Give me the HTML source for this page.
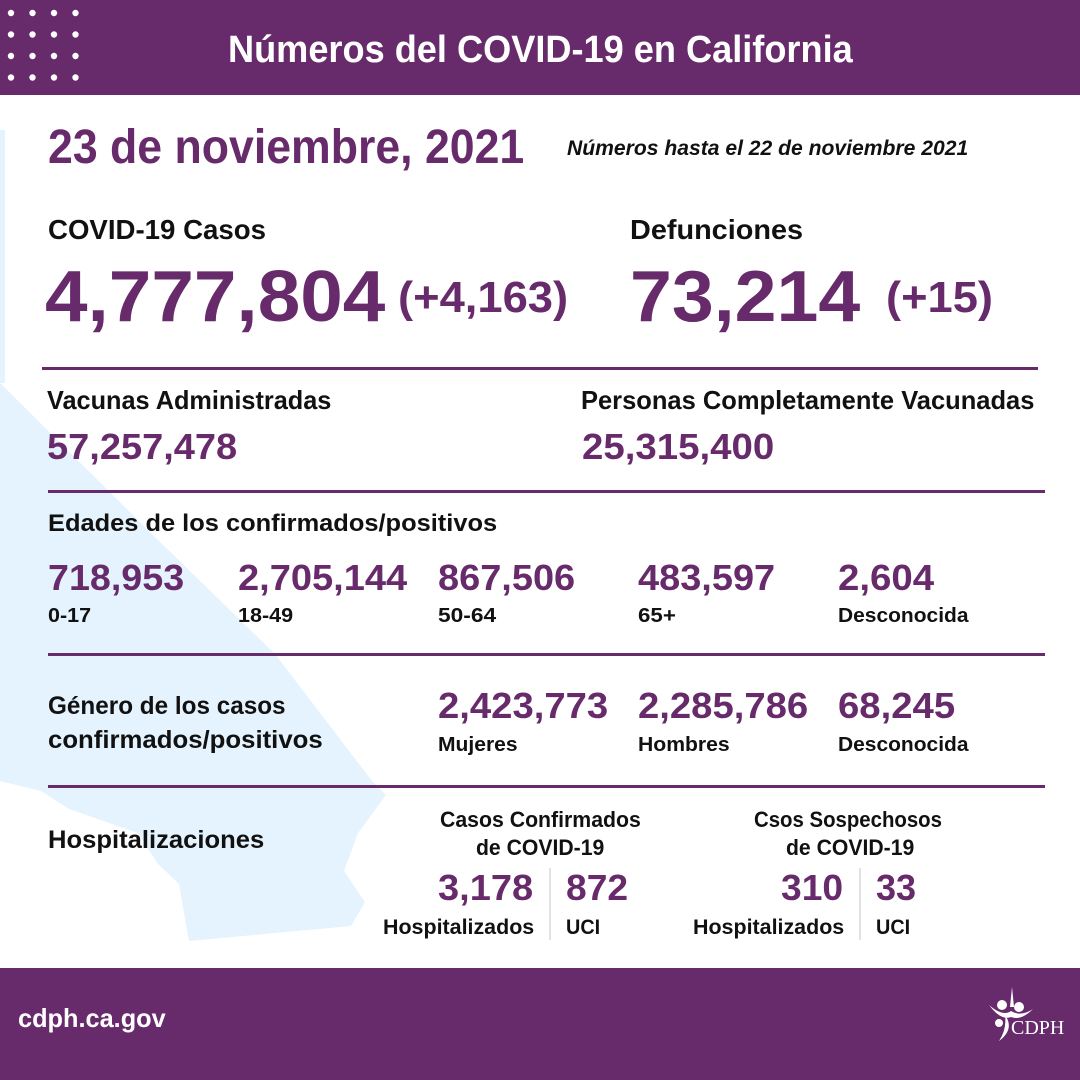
<!DOCTYPE html>
<html><head><meta charset="utf-8">
<style>
html,body{margin:0;padding:0}
body{width:1080px;height:1080px;position:relative;overflow:hidden;background:#fff;font-family:"Liberation Sans",sans-serif;font-weight:bold}
.t{position:absolute;white-space:nowrap;line-height:1;transform-origin:left top}
.p{color:#672a6b}.k{color:#111}.w{color:#fff}
.rule{position:absolute;height:3px;background:#672a6b}
.div{position:absolute;width:2px;background:#e2e2e2}
</style></head><body>
<svg style="position:absolute;left:0;top:0" width="1080" height="1080">
<polygon fill="#e4f3fd" points="0,130 5,130 5,383 0,383"/>
<polygon fill="#e4f3fd" points="0,383 158,540 275,654 372,781 386,795 358,833 344,871 365,902 351,926 189,941 179,884 158,864 138,833 69,809 41,791 0,781"/>
</svg>
<div style="position:absolute;left:0;top:0;width:1080px;height:95px;background:#672a6b"></div>
<svg style="position:absolute;left:0;top:0" width="90" height="90" id="dots"></svg>
<div style="position:absolute;left:0;top:968px;width:1080px;height:112px;background:#672a6b"></div>
<svg style="position:absolute;left:985px;top:985px" width="85" height="60">
<circle cx="17" cy="20" r="5" fill="#fff"/><circle cx="34" cy="22" r="5" fill="#fff"/><circle cx="14" cy="38" r="4" fill="#fff"/>
<path d="M4,20 Q18,32 26,26 Q36,32 48,24 Q36,36 26,32 Q16,36 4,20Z" fill="#fff"/>
<path d="M27,2 L29,22 L25,22Z" fill="#fff"/>
<path d="M20,30 Q30,44 14,56 Q22,44 20,30Z" fill="#fff"/>
<text x="26" y="49" fill="#fff" font-family="Liberation Serif,serif" font-size="20" font-weight="normal">CDPH</text>
</svg>

<div class="t w" data-x="228" data-cy="50" data-s="38" data-w="625">Números del COVID-19 en California</div>
<div class="t p" data-x="48" data-cy="148" data-s="48" data-w="476">23 de noviembre, 2021</div>
<div class="t k" style="font-style:italic" data-x="567" data-cy="148" data-s="21" data-w="401">Números hasta el 22 de noviembre 2021</div>

<div class="t k" data-x="48" data-cy="230" data-s="28" data-w="218">COVID-19 Casos</div>
<div class="t p" data-x="45" data-cy="297" data-s="72" data-w="340">4,777,804</div>
<div class="t p" data-x="398" data-cy="298" data-s="44" data-w="170">(+4,163)</div>
<div class="t k" data-x="630" data-cy="230" data-s="28" data-w="173">Defunciones</div>
<div class="t p" data-x="630" data-cy="297" data-s="72" data-w="230">73,214</div>
<div class="t p" data-x="886" data-cy="298" data-s="44" data-w="107">(+15)</div>
<div class="rule" style="left:42px;top:367px;width:996px"></div>

<div class="t k" data-x="47" data-cy="400" data-s="26" data-w="284">Vacunas Administradas</div>
<div class="t p" data-x="47" data-cy="447" data-s="36" data-w="190">57,257,478</div>
<div class="t k" data-x="581" data-cy="400" data-s="26" data-w="453">Personas Completamente Vacunadas</div>
<div class="t p" data-x="582" data-cy="447" data-s="36" data-w="192">25,315,400</div>
<div class="rule" style="left:48px;top:490px;width:997px"></div>

<div class="t k" data-x="48" data-cy="524" data-s="24" data-w="449">Edades de los confirmados/positivos</div>
<div class="t p" data-x="48" data-cy="578" data-s="36" data-w="136">718,953</div>
<div class="t p" data-x="238" data-cy="578" data-s="36" data-w="169">2,705,144</div>
<div class="t p" data-x="438" data-cy="578" data-s="36" data-w="137">867,506</div>
<div class="t p" data-x="638" data-cy="578" data-s="36" data-w="137">483,597</div>
<div class="t p" data-x="838" data-cy="578" data-s="36" data-w="96">2,604</div>
<div class="t k" data-x="48" data-cy="616" data-s="20" data-w="43">0-17</div>
<div class="t k" data-x="238" data-cy="616" data-s="20" data-w="55">18-49</div>
<div class="t k" data-x="438" data-cy="616" data-s="20" data-w="58">50-64</div>
<div class="t k" data-x="638" data-cy="616" data-s="20" data-w="38">65+</div>
<div class="t k" data-x="838" data-cy="616" data-s="20" data-w="130">Desconocida</div>
<div class="rule" style="left:48px;top:653px;width:997px"></div>

<div class="t k" data-x="48" data-cy="706" data-s="25" data-w="238">Género de los casos</div>
<div class="t k" data-x="48" data-cy="740" data-s="25" data-w="275">confirmados/positivos</div>
<div class="t p" data-x="438" data-cy="706" data-s="36" data-w="170">2,423,773</div>
<div class="t p" data-x="638" data-cy="706" data-s="36" data-w="170">2,285,786</div>
<div class="t p" data-x="838" data-cy="706" data-s="36" data-w="117">68,245</div>
<div class="t k" data-x="438" data-cy="745" data-s="20" data-w="80">Mujeres</div>
<div class="t k" data-x="638" data-cy="745" data-s="20" data-w="92">Hombres</div>
<div class="t k" data-x="838" data-cy="745" data-s="20" data-w="130">Desconocida</div>
<div class="rule" style="left:48px;top:785px;width:997px"></div>

<div class="t k" data-x="48" data-cy="840" data-s="25" data-w="216">Hospitalizaciones</div>
<div class="t k" data-x="440" data-cy="820" data-s="22" data-w="201">Casos Confirmados</div>
<div class="t k" data-x="476" data-cy="848" data-s="22" data-w="128">de COVID-19</div>
<div class="t k" data-x="754" data-cy="820" data-s="22" data-w="188">Csos Sospechosos</div>
<div class="t k" data-x="786" data-cy="848" data-s="22" data-w="128">de COVID-19</div>
<div class="t p" data-x="438" data-cy="888" data-s="36" data-w="95">3,178</div>
<div class="t p" data-x="566" data-cy="888" data-s="36" data-w="62">872</div>
<div class="t p" data-x="781" data-cy="888" data-s="36" data-w="62">310</div>
<div class="t p" data-x="876" data-cy="888" data-s="36" data-w="40">33</div>
<div class="t k" data-x="383" data-cy="927" data-s="21" data-w="151">Hospitalizados</div>
<div class="t k" data-x="566" data-cy="927" data-s="21" data-w="34">UCI</div>
<div class="t k" data-x="693" data-cy="927" data-s="21" data-w="151">Hospitalizados</div>
<div class="t k" data-x="876" data-cy="927" data-s="21" data-w="34">UCI</div>
<div class="div" style="left:549px;top:868px;height:72px"></div>
<div class="div" style="left:859px;top:868px;height:72px"></div>

<div class="t w" data-x="18" data-cy="1018" data-s="26" data-w="148">cdph.ca.gov</div>

<script>
var svg=document.getElementById('dots');
for(var r=0;r<4;r++)for(var c=0;c<4;c++){
var d=document.createElementNS('http://www.w3.org/2000/svg','circle');


d.setAttribute('cx',11+c*21.5);d.setAttribute('cy',13+r*21.5);d.setAttribute('r',3.2);d.setAttribute('fill','#fff');
svg.appendChild(d);}
document.querySelectorAll('.t').forEach(function(e){
var s=+e.dataset.s;e.style.fontSize=s+'px';
e.style.left=e.dataset.x+'px';
e.style.top=(+e.dataset.cy-0.5*s)+'px';
var w=e.scrollWidth;var tw=+e.dataset.w;
e.style.transform='scaleX('+(tw/w)+')';
});
</script>
</body></html>
